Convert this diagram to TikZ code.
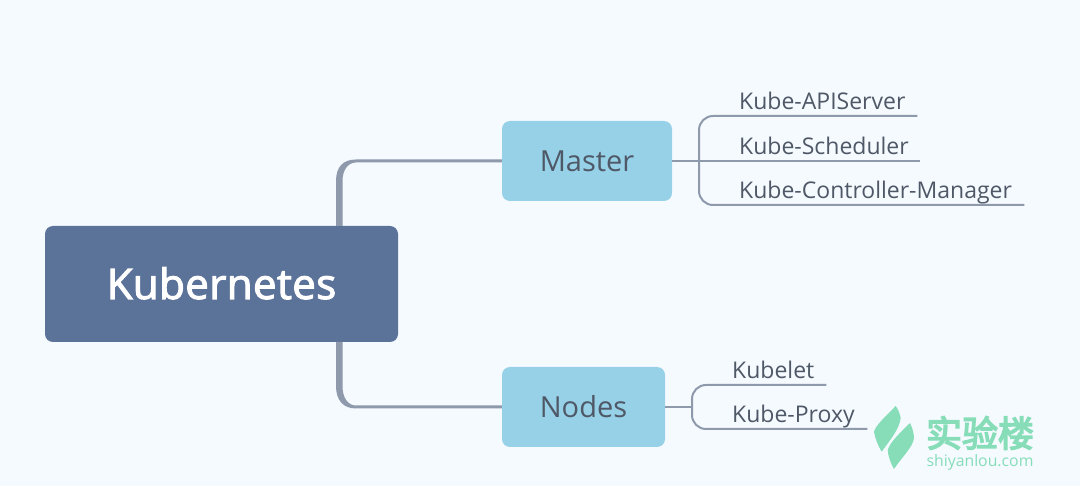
\documentclass[tikz,border=0pt]{standalone}
\usepackage{fontspec}
\setmainfont{Open Sans}
\newfontfamily\cjkfont[FakeBold=4]{Noto Sans CJK SC}
\newfontfamily\rootfont[FakeBold=2.5,LetterSpace=1]{Open Sans}
\usepackage{xcolor}
\usepackage{tikz}
\usetikzlibrary{calc}
\definecolor{pagebg}{HTML}{F5FAFF}
\definecolor{rootblue}{HTML}{5B7299}
\definecolor{boxblue}{HTML}{96D1E8}
\definecolor{linkgray}{HTML}{8E99AC}
\definecolor{labelgray}{HTML}{4F5866}
\definecolor{logogreen}{HTML}{86DDB8}

\begin{document}
\begin{tikzpicture}[x=1pt,y=-1pt,
rootbox/.style={rectangle, fill=rootblue, rounded corners=8pt, minimum width=353pt, minimum height=116pt, text=white, text height=32pt, text depth=2pt, font=\rootfont\fontsize{42}{50}\selectfont},
midbox/.style={rectangle, fill=boxblue, rounded corners=8pt, minimum height=80pt, text=labelgray, font=\fontsize{29}{35}\selectfont},
leaf/.style={rectangle, anchor=south west, inner xsep=0pt, inner ysep=0pt, align=left, text=labelgray, font=\fontsize{23}{28}\selectfont, text depth=6.7pt},
branch/.style={draw=linkgray, line width=2pt, rounded corners=14pt},
trunk/.style={fill=linkgray}
]
\useasboundingbox (0,0) rectangle (1080,486);
\fill[pagebg] (0,0) rectangle (1080,486);

% Main boxes
\node[rootbox] (root) at (221.5,284) {Kubernetes};
\node[midbox, minimum width=170pt] (master) at (587,161) {Master};
\node[midbox, minimum width=163pt] (nodes) at (583.5,407) {Nodes};

% Tapered links
\coordinate (masterin) at (master.west);
\coordinate (nodesin) at (nodes.west);
\fill[trunk] (336,226) -- (336,181) .. controls (336,167) and (343,159.5) .. (356,159.5) -- ($(masterin)+(0,-1.5)$) -- ($(masterin)+(0,1.5)$) -- (356,162.5) .. controls (348,162.5) and (342.5,170) .. (342.5,181) -- (342.5,226) -- cycle;
\fill[trunk] (336,342) -- (336,386) .. controls (336,400) and (343,408.5) .. (356,408.5) -- ($(nodesin)+(0,1.5)$) -- ($(nodesin)+(0,-1.5)$) -- (356,405.5) .. controls (348,405.5) and (342.5,398) .. (342.5,386) -- (342.5,342) -- cycle;

% Leaves of Master
\node[leaf, text width=178pt] (api) at (739,116) {Kube-APIServer};
\node[leaf, text width=181pt] (sched) at (739,161) {Kube-Scheduler};
\node[leaf, text width=285pt] (ctrl) at (739,205) {Kube-Controller-Manager};
\coordinate (masterfork) at (699,161);
\draw[branch] (master.east) -- (sched.south east);
\draw[branch] (masterfork) |- (api.south east);
\draw[branch] (masterfork) |- (ctrl.south east);

% Leaves of Nodes
\node[leaf, text width=94pt] (kubelet) at (732,385) {Kubelet};
\node[leaf, text width=135pt] (proxy) at (732,429) {Kube-Proxy};
\coordinate (nodesfork) at (692,407);
\draw[branch] (nodes.east) -- (nodesfork);
\draw[branch] (nodesfork) |- (kubelet.south east);
\draw[branch] (nodesfork) |- (proxy.south east);

% Logo
\fill[logogreen] (895.7,406) .. controls (884,418) and (876,425) .. (874,431.7) .. controls (875,438) and (878,446) .. (881.7,451.7) .. controls (890,440) and (899,430) .. (900.7,418) .. controls (900,414) and (898,409) .. (895.7,406) -- cycle;
\fill[logogreen] (910,423) .. controls (900,433) and (890,442) .. (887.7,450) .. controls (888,456) and (891,464) .. (894,469) .. controls (902,457) and (913,447) .. (914,438) .. controls (914,433) and (912,427) .. (910,423) -- cycle;
\node[inner sep=0pt, text=logogreen, font=\cjkfont\fontsize{36}{40}\selectfont] (logotext) at (980,433) {实验楼};
\node[inner sep=0pt, text=logogreen, font=\fontsize{15.8}{18}\selectfont] (logourl) at (980,462) {shiyanlou.com};
\end{tikzpicture}
\end{document}
